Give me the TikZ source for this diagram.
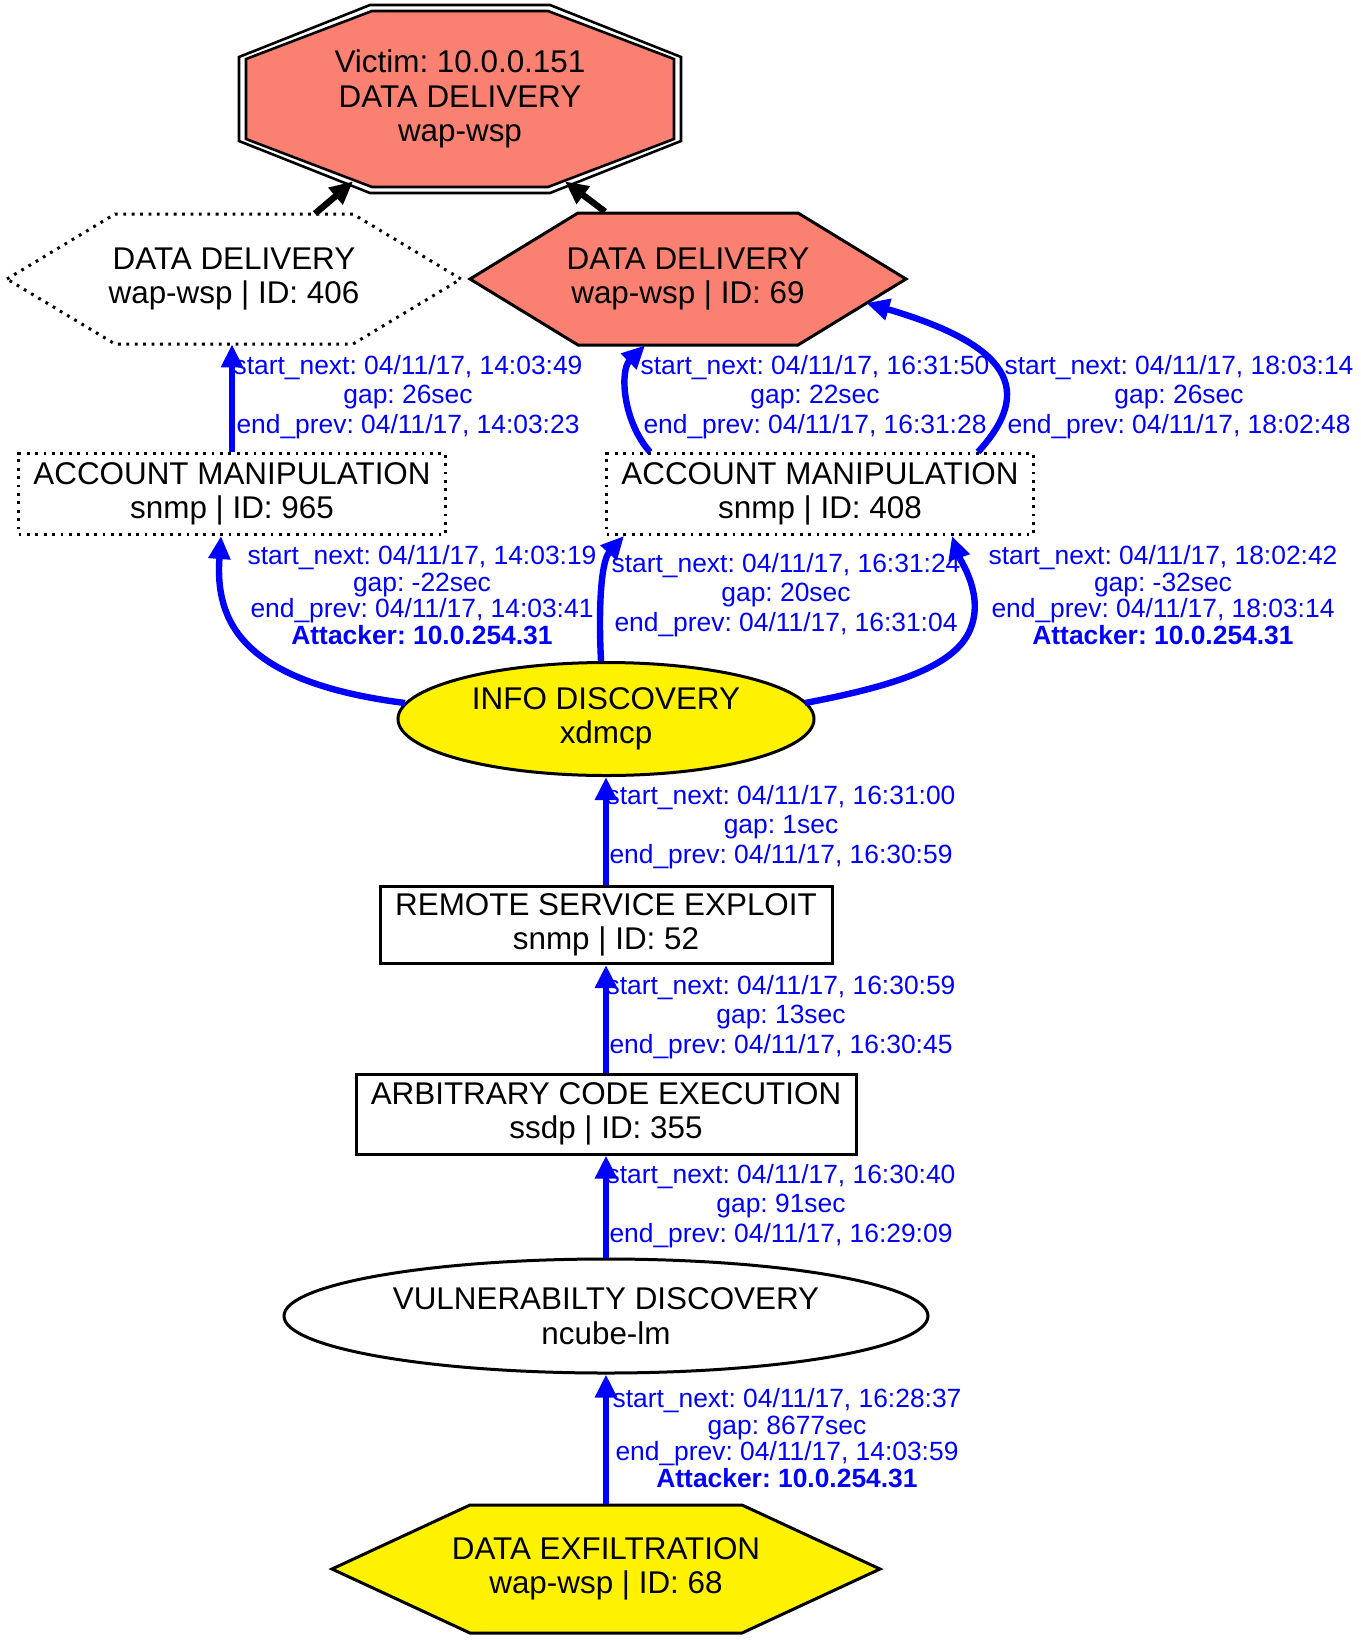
\documentclass[tikz,border=0pt]{standalone}
\usepackage{fontspec}
\setmainfont{Liberation Sans}
\usetikzlibrary{arrows.meta,calc,backgrounds,shapes.geometric}

\definecolor{salmon}{RGB}{250,128,114}
\frenchspacing

\begin{document}
\begin{tikzpicture}[x=0.5pt, y=-0.5pt, >={Triangle[length=11.5pt,width=10.5pt]}]

  \def\px{0.5pt}
  \tikzset{
    evt/.style={align=center, inner sep=0pt, font=\fontsize{15.7}{17.25}\selectfont},
    solidbox/.style={evt, draw, line width=1.5pt},
    dotbox/.style={evt, draw, line width=1.5pt, dash pattern=on 1.4pt off 2.8pt},
    oval/.style={evt, ellipse, draw, line width=1.5pt},
    lbl/.style={align=center, inner sep=0pt, text=blue, font=\fontsize{13.2}{14.65}\selectfont},
    lblatt/.style={lbl, font=\fontsize{13.2}{13.2}\selectfont},
    flow/.style={->, line width=3.2pt, draw=blue},
    hit/.style={->, line width=3.2pt, draw=black},
  }

  \useasboundingbox (0,0) rectangle (1361,1640);

  % events
  \node[evt, minimum width=442*\px, minimum height=188*\px] (victim) at (460,99) {Victim: 10.0.0.151\\DATA DELIVERY\\wap-wsp};
  \node[evt, minimum width=455*\px, minimum height=130*\px] (dd406) at (234,279) {DATA DELIVERY\\wap-wsp | ID: 406};
  \node[evt, minimum width=436*\px, minimum height=132*\px] (dd69) at (688,279) {DATA DELIVERY\\wap-wsp | ID: 69};
  \node[dotbox, minimum width=427*\px, minimum height=81*\px] (am965) at (232,494) {ACCOUNT MANIPULATION\\snmp | ID: 965};
  \node[dotbox, minimum width=427*\px, minimum height=81*\px] (am408) at (820,494) {ACCOUNT MANIPULATION\\snmp | ID: 408};
  \node[oval, fill=yellow, minimum width=416*\px, minimum height=113*\px] (info) at (606,719) {INFO DISCOVERY\\xdmcp};
  \node[solidbox, minimum width=452*\px, minimum height=77*\px] (rse) at (606,925) {REMOTE SERVICE EXPLOIT\\snmp | ID: 52};
  \node[solidbox, minimum width=500*\px, minimum height=80*\px] (ace) at (606,1114) {ARBITRARY CODE EXECUTION\\ssdp | ID: 355};
  \node[oval, minimum width=644*\px, minimum height=114*\px] (vuln) at (606,1316) {VULNERABILTY DISCOVERY\\ncube-lm};
  \node[evt, minimum width=549*\px, minimum height=129*\px] (exfil) at (606,1569) {DATA EXFILTRATION\\wap-wsp | ID: 68};

  % outlines behind the texts
  \begin{scope}[on background layer]
    \draw[line width=1.3pt, shift={(victim.center)}] (-221,-42) -- (-90,-94) -- (90,-94) -- (221,-42) -- (221,42) -- (90,94) -- (-90,94) -- (-221,42) -- cycle;
    \draw[line width=1.3pt, fill=salmon, shift={(victim.center)}] (-214,-40) -- (-88,-88) -- (88,-88) -- (214,-40) -- (214,40) -- (88,88) -- (-88,88) -- (-214,40) -- cycle;
    \draw[line width=1.5pt, dash pattern=on 1.4pt off 2.8pt, shift={(dd406.center)}] (-227,0) -- (-119,-65) -- (119,-65) -- (227,0) -- (119,65) -- (-119,65) -- cycle;
    \draw[line width=1.5pt, fill=salmon, shift={(dd69.center)}] (-218,0) -- (-110,-66) -- (110,-66) -- (218,0) -- (110,66) -- (-110,66) -- cycle;
    \draw[line width=1.5pt, fill=yellow, shift={(exfil.center)}] (-274,0) -- (-136,-64) -- (136,-64) -- (274,0) -- (136,64) -- (-136,64) -- cycle;
  \end{scope}

  % into the victim
  \draw[hit] ($(dd406.north)+(81,0)$) -- ($(victim.south)+(-107,-12)$);
  \draw[hit] ($(dd69.north)+(-83,-1)$) -- ($(victim.south)+(105,-12)$);

  % attack steps
  \draw[flow] (am965.north) -- (am965.north |- dd406.south);
  \draw[flow] ($(am408.north)+(-170,0)$) .. controls (622,420) and (620,370) .. ($(dd69.south)+(-43,0)$);
  \draw[flow] ($(am408.north)+(158,0)$) .. controls (1035,390) and (1010,345) .. ($(dd69.east)+(-40,24)$);
  \draw[flow] ($(info.center)+(-201,-16)$) .. controls (240,682) and (215,620) .. ($(am965.south)+(-11,0)$);
  \draw[flow] ($(info.north)+(-5,0)$) .. controls (598,600) and (602,560) .. ($(am408.south)+(-196,0)$);
  \draw[flow] ($(info.center)+(199,-16)$) .. controls (900,685) and (955,665) .. (970,630) .. controls (985,595) and (960,560) .. ($(am408.south)+(132,0)$);
  \draw[flow] (rse.north) -- (info.south);
  \draw[flow] (ace.north) -- (rse.south);
  \draw[flow] (vuln.north) -- (ace.south);
  \draw[flow] (exfil.north) -- (vuln.south);

  % edge labels
  \node[lbl] (lab1) at (408,397) {start\_next: 04/11/17, 14:03:49\\gap: 26sec\\end\_prev: 04/11/17, 14:03:23};
  \node[lbl] (lab2) at (815,397) {start\_next: 04/11/17, 16:31:50\\gap: 22sec\\end\_prev: 04/11/17, 16:31:28};
  \node[lbl] (lab3) at (1179,397) {start\_next: 04/11/17, 18:03:14\\gap: 26sec\\end\_prev: 04/11/17, 18:02:48};
  \node[lblatt] (lab4) at (422,595) {start\_next: 04/11/17, 14:03:19\\gap: -22sec\\end\_prev: 04/11/17, 14:03:41\\\textbf{Attacker: 10.0.254.31}};
  \node[lbl] (lab5) at (786,595) {start\_next: 04/11/17, 16:31:24\\gap: 20sec\\end\_prev: 04/11/17, 16:31:04};
  \node[lblatt] (lab6) at (1163,595) {start\_next: 04/11/17, 18:02:42\\gap: -32sec\\end\_prev: 04/11/17, 18:03:14\\\textbf{Attacker: 10.0.254.31}};
  \node[lbl] (lab7) at (781,827) {start\_next: 04/11/17, 16:31:00\\gap: 1sec\\end\_prev: 04/11/17, 16:30:59};
  \node[lbl] (lab8) at (781,1017) {start\_next: 04/11/17, 16:30:59\\gap: 13sec\\end\_prev: 04/11/17, 16:30:45};
  \node[lbl] (lab9) at (781,1206) {start\_next: 04/11/17, 16:30:40\\gap: 91sec\\end\_prev: 04/11/17, 16:29:09};
  \node[lblatt] (lab10) at (787,1438) {start\_next: 04/11/17, 16:28:37\\gap: 8677sec\\end\_prev: 04/11/17, 14:03:59\\\textbf{Attacker: 10.0.254.31}};

\end{tikzpicture}
\end{document}
